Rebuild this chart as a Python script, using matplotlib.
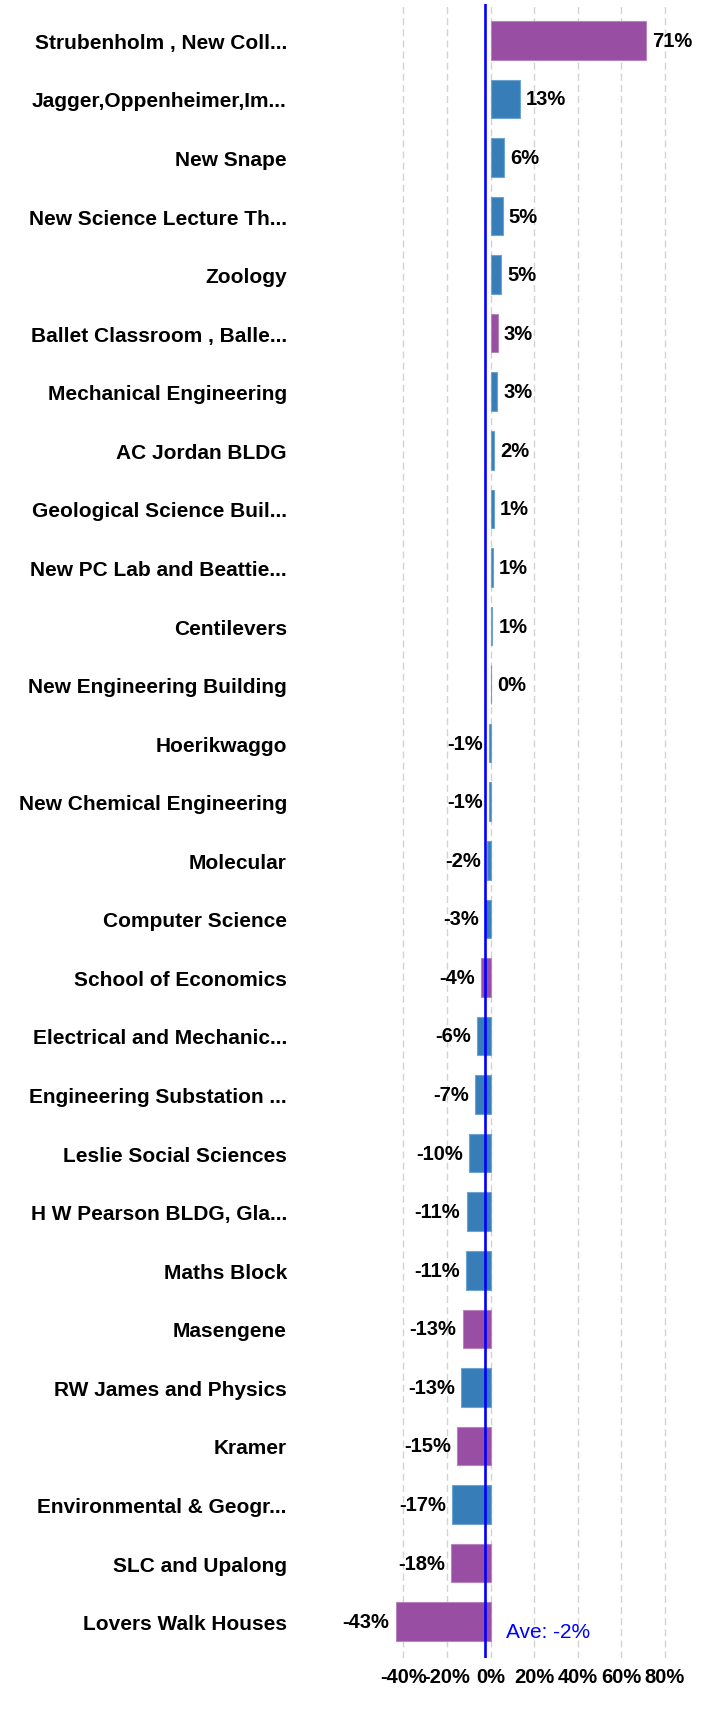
import numpy as np
import matplotlib
matplotlib.use("Agg")
import matplotlib.pyplot as plt

# building names, change (%) and bar group, top to bottom
buildings = [
    "Strubenholm , New Coll...", "Jagger,Oppenheimer,Im...", "New Snape",
    "New Science Lecture Th...", "Zoology", "Ballet Classroom , Balle...",
    "Mechanical Engineering", "AC Jordan BLDG", "Geological Science Buil...",
    "New PC Lab and Beattie...", "Centilevers", "New Engineering Building",
    "Hoerikwaggo", "New Chemical Engineering", "Molecular", "Computer Science",
    "School of Economics", "Electrical and Mechanic...", "Engineering Substation ...",
    "Leslie Social Sciences", "H W Pearson BLDG, Gla...", "Maths Block", "Masengene",
    "RW James and Physics", "Kramer", "Environmental & Geogr...", "SLC and Upalong",
    "Lovers Walk Houses",
]
change = [71.2, 13.4, 6.1, 5.5, 4.9, 3.3, 3.2, 1.7, 1.4, 1.1, 0.8, 0.3,
          -0.5, -0.6, -1.6, -2.5, -4.3, -6.1, -6.9, -9.8, -11.0, -11.3,
          -12.8, -13.4, -15.4, -17.5, -18.1, -43.5]
labels = ["71%", "13%", "6%", "5%", "5%", "3%", "3%", "2%", "1%", "1%", "1%", "0%",
          "-1%", "-1%", "-2%", "-3%", "-4%", "-6%", "-7%", "-10%", "-11%", "-11%",
          "-13%", "-13%", "-15%", "-17%", "-18%", "-43%"]
group = ["r", "a", "a", "a", "a", "r", "a", "a", "a", "a", "a", "a",
         "a", "a", "a", "a", "r", "a", "a", "a", "a", "a",
         "r", "a", "r", "a", "r", "r"]
avg_value = -2.4
avg_label = "Ave: -2%"
xticks = [-40, -20, 0, 20, 40, 60, 80]

colors = {"a": "#377eb8", "r": "#984ea3"}
edges = {"a": "#6fa3cf", "r": "#b784bd"}

fig = plt.figure(figsize=(7.1, 17.15), dpi=100)
ax = fig.add_axes([300 / 710, 56 / 1715, 405 / 710, 1654 / 1715])

y = np.arange(len(buildings))
ax.barh(y, change, height=0.66,
        color=[colors[g] for g in group],
        edgecolor=[edges[g] for g in group], linewidth=0.8, zorder=2)

for yi, v, lab in zip(y, change, labels):
    if v >= 0:
        ax.annotate(lab, (v, yi), xytext=(4.5, 0), textcoords="offset points",
                    ha="left", va="center", fontsize=14.5, fontweight="bold",
                    family="Liberation Sans")
    else:
        ax.annotate(lab, (v, yi), xytext=(-4.5, 0), textcoords="offset points",
                    ha="right", va="center", fontsize=14.5, fontweight="bold",
                    family="Liberation Sans")

ax.axvline(avg_value, color="#0000ff", linewidth=1.9, zorder=3)
ax.text(7.1, len(buildings) - 1 + 0.16, avg_label, color="#0000ff",
        fontsize=15, va="center", ha="left", family="Liberation Sans")

ax.set_xlim(-87.4, 98.4)
ax.set_ylim(len(buildings) - 1 + 0.62, -0.62)
ax.set_xticks(xticks)
ax.set_xticklabels([f"{t}%" for t in xticks], fontsize=14.5, fontweight="bold",
                   family="Liberation Sans")
ax.set_yticks(y)
ax.set_yticklabels(buildings, fontsize=15, fontweight="bold", family="Liberation Sans")
ax.tick_params(axis="both", length=0)
ax.tick_params(axis="y", pad=9.5)
ax.tick_params(axis="x", pad=6.5)
ax.grid(axis="x", color="#d3d3d3", linestyle=(0, (5, 3)), linewidth=1.0, zorder=0)
ax.set_axisbelow(True)
for s in ax.spines.values():
    s.set_visible(False)

fig.savefig("out.png", dpi=100)
